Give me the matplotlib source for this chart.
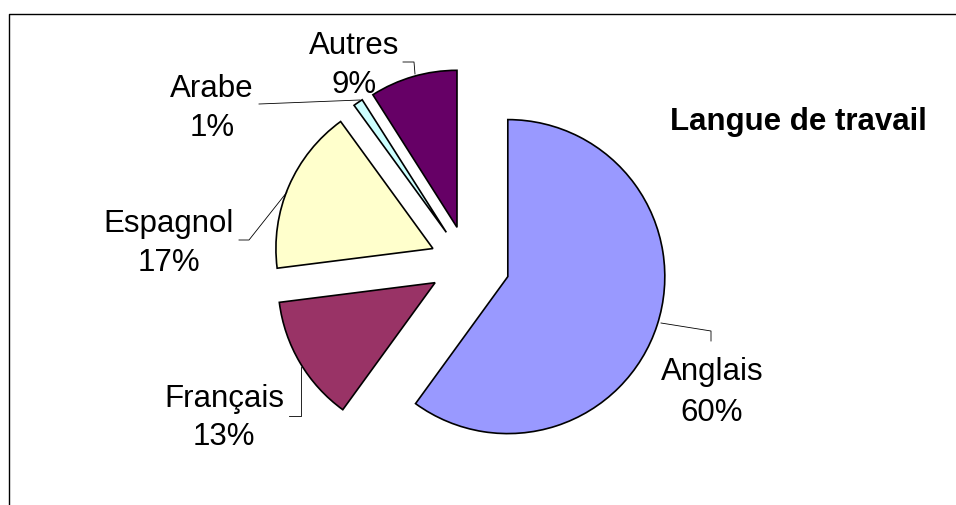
import matplotlib.pyplot as plt

plt.rcParams['font.family'] = ['Liberation Sans', 'DejaVu Sans']

langues = ['Anglais', 'Français', 'Espagnol', 'Arabe', 'Autres']
parts = [60, 13, 17, 1, 9]
couleurs = ['#9999FF', '#993366', '#FFFFCC', '#CCFFFF', '#660066']
titre = 'Langue de travail'

W, H = 956, 506
rayon = 157
fig = plt.figure(figsize=(W / 100, H / 100), dpi=100)
ax = fig.add_axes([0, 0, 1, 1])

# pie explode offset is in data units here, so scale by radius
ecarts = [0.27, 0.24, 0.24, 0.24, 0.24]
ax.pie(parts, colors=couleurs, startangle=90, counterclock=False,
       explode=[e * rayon for e in ecarts],
       center=(467.5, H - 264.5), radius=rayon,
       wedgeprops=dict(edgecolor='black', linewidth=1.2))

ax.set_xlim(0, W)
ax.set_ylim(0, H)
ax.set_aspect('equal')
ax.axis('off')

# label positions (x center, baseline of name, baseline of pct), pixel coords
pos_labels = [(712, 380, 421), (224, 407, 445), (169, 232, 271),
              (212, 97, 136), (354, 54, 93)]
for nom, p, (x, y1, y2) in zip(langues, parts, pos_labels):
    ax.text(x, H - y1, nom, ha='center', va='baseline', fontsize=22.5)
    ax.text(x, H - y2, f'{p}%', ha='center', va='baseline', fontsize=22.5)

# leader lines
lignes = [
    [(661, 324), (711, 332), (711, 342)],
    [(301, 368), (301, 417), (289, 417)],
    [(287, 193), (249, 241), (239, 241)],
    [(259, 105), (360, 101)],
    [(403, 63), (414, 63), (415, 75)],
]
for pts in lignes:
    ax.plot([p[0] for p in pts], [H - p[1] for p in pts], color='black', lw=0.6)

ax.text(798, H - 130, titre, ha='center', va='baseline', fontsize=22.5,
        fontweight='bold')

# chart area border (partially visible)
ax.plot([9, 9, W], [0, H - 15, H - 15], color='black', lw=1.0)

plt.savefig('out.png', dpi=100)
